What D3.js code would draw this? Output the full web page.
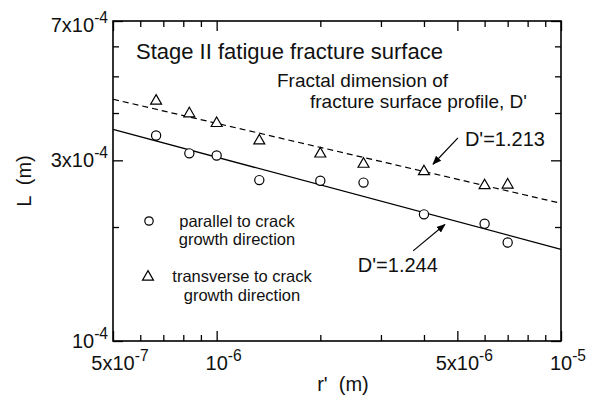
<!DOCTYPE html>
<html>
<head>
<meta charset="utf-8">
<script src="https://cdn.jsdelivr.net/npm/d3@7"></script>
<style>
    body { margin: 0; background: #ffffff; }
    svg { display: block; font-family: "Liberation Sans", Arial, sans-serif; }
</style>
</head>
<body>
<svg id="fractal-chart"></svg>
<script>
/*--------------------------------------------------------------------------------
----- LOG-LOG CHART (L versus r' for the stage II fatigue fracture surface)
--------------------------------------------------------------------------------*/

// Measured ruler lengths r' (m) shared by both profile directions
const r_values = [6.67e-7, 8.33e-7, 1.0e-6, 1.33e-6, 2.0e-6, 2.67e-6, 4.0e-6, 6.0e-6, 7.0e-6];

// Profile lengths L (m), parallel and transverse to crack growth direction
const parallel_values = [3.49e-4, 3.13e-4, 3.09e-4, 2.66e-4, 2.65e-4, 2.62e-4, 2.16e-4, 2.04e-4, 1.82e-4];
const transverse_values = [4.33e-4, 4.01e-4, 3.78e-4, 3.40e-4, 3.14e-4, 2.95e-4, 2.82e-4, 2.59e-4, 2.60e-4];

// Fitted lines, given by their end points [r', L]
const parallel_fit = [[5e-7, 3.62e-4], [1e-5, 1.746e-4]];
const transverse_fit = [[5e-7, 4.35e-4], [1e-5, 2.31e-4]];

// Tick values and tick labels (base text and exponent)
const x_major_ticks = [5e-7, 1e-6, 5e-6, 1e-5];
const x_tick_bases = ["5x10", "10", "5x10", "10"];
const x_tick_exponents = ["-7", "-6", "-6", "-5"];
const x_minor_ticks = [6e-7, 7e-7, 8e-7, 9e-7, 2e-6, 3e-6, 4e-6, 6e-6, 7e-6, 8e-6, 9e-6];
const y_major_ticks = [1e-4, 3e-4, 7e-4];
const y_tick_bases = ["10", "3x10", "7x10"];
const y_tick_exponents = ["-4", "-4", "-4"];
const y_minor_ticks = [2e-4, 4e-4, 5e-4, 6e-4];

// Texts of the chart
const title_text = "Stage II fatigue fracture surface";
const note_lines = ["Fractal dimension of", "fracture surface profile, D'"];
const fit_labels = ["D'=1.244", "D'=1.213"];
const legend_lines = [["parallel to crack", "growth direction"], ["transverse to crack", "growth direction"]];
const x_label = "r'  (m)";
const y_label = "L  (m)";

// Configure the dimensions of the chart
const width = 589, height = 400;
const margins = { top: 21, right: 28, bottom: 59, left: 113 };
const chart_width = width - margins.left - margins.right;
const chart_height = height - margins.top - margins.bottom;

// Log scales for both axes
const x_scale = d3.scaleLog()
    .domain([5e-7, 1e-5])
    .range([0, chart_width]);
const y_scale = d3.scaleLog()
    .domain([1e-4, 7e-4])
    .range([chart_height, 0]);

// Create the chart container
const svg = d3.select("#fractal-chart")
    .attr("width", width)
    .attr("height", height);

const chart = svg.append("g")
    .attr("transform", `translate(${margins.left}, ${margins.top})`);

// Draw inward ticks on all four sides with the d3 axes
function add_ticks(axis, transform) {
    chart.append("g")
        .attr("transform", transform)
        .call(axis)
        .call(g => g.select(".domain").remove())
        .selectAll("line")
        .attr("stroke", "#000")
        .attr("stroke-width", 1.3);
}

const major_len = 10, minor_len = 6;
add_ticks(d3.axisTop(x_scale).tickValues(x_major_ticks).tickSize(major_len).tickFormat(""), `translate(0, ${chart_height})`);
add_ticks(d3.axisTop(x_scale).tickValues(x_minor_ticks).tickSize(minor_len).tickFormat(""), `translate(0, ${chart_height})`);
add_ticks(d3.axisBottom(x_scale).tickValues(x_major_ticks).tickSize(major_len).tickFormat(""), "translate(0, 0)");
add_ticks(d3.axisBottom(x_scale).tickValues(x_minor_ticks).tickSize(minor_len).tickFormat(""), "translate(0, 0)");
add_ticks(d3.axisRight(y_scale).tickValues(y_major_ticks).tickSize(major_len).tickFormat(""), "translate(0, 0)");
add_ticks(d3.axisRight(y_scale).tickValues(y_minor_ticks).tickSize(minor_len).tickFormat(""), "translate(0, 0)");
add_ticks(d3.axisLeft(y_scale).tickValues(y_major_ticks).tickSize(major_len).tickFormat(""), `translate(${chart_width}, 0)`);
add_ticks(d3.axisLeft(y_scale).tickValues(y_minor_ticks).tickSize(minor_len).tickFormat(""), `translate(${chart_width}, 0)`);

// Frame of the plot area
chart.append("rect")
    .attr("x", 0)
    .attr("y", 0)
    .attr("width", chart_width)
    .attr("height", chart_height)
    .attr("fill", "none")
    .attr("stroke", "#000")
    .attr("stroke-width", 1.6);

// Tick labels written as base text with a superscript exponent
function power_label(parent, base, exponent, font_size) {
    const text = parent.append("text")
        .style("font-size", font_size + "px")
        .attr("fill", "#111");
    const base_span = text.append("tspan").text(base);
    text.append("tspan")
        .attr("dy", -9)
        .style("font-size", (font_size * 0.78) + "px")
        .text(exponent);
    return { text: text, base_width: base_span.node().getComputedTextLength() };
}

// X tick labels, the base text centred under the tick
x_major_ticks.forEach((v, i) => {
    const label = power_label(chart, x_tick_bases[i], x_tick_exponents[i], 20);
    label.text
        .attr("x", x_scale(v) - label.base_width / 2)
        .attr("y", chart_height + 29);
});

// Y tick labels, right aligned left of the axis
y_major_ticks.forEach((v, i) => {
    const label = power_label(chart, y_tick_bases[i], y_tick_exponents[i], 20);
    label.text
        .attr("text-anchor", "end")
        .attr("x", -5)
        .attr("y", y_scale(v) + (i === y_major_ticks.length - 1 ? 11 : 7));
});

// Axis titles
svg.append("text")
    .attr("x", 343)
    .attr("y", 391)
    .attr("text-anchor", "middle")
    .style("font-size", "20px")
    .style("white-space", "pre")
    .attr("fill", "#111")
    .text(x_label);

svg.append("text")
    .attr("transform", `translate(31, ${margins.top + chart_height / 2}) rotate(-90)`)
    .attr("text-anchor", "middle")
    .style("font-size", "20px")
    .style("white-space", "pre")
    .attr("fill", "#111")
    .text(y_label);

// Fitted lines, solid for parallel and dashed for transverse
const line = d3.line()
    .x(d => x_scale(d[0]))
    .y(d => y_scale(d[1]));

chart.append("path")
    .datum(parallel_fit)
    .attr("d", line)
    .attr("fill", "none")
    .attr("stroke", "#000")
    .attr("stroke-width", 1.3);

chart.append("path")
    .datum(transverse_fit)
    .attr("d", line)
    .attr("fill", "none")
    .attr("stroke", "#000")
    .attr("stroke-width", 1.2)
    .attr("stroke-dasharray", "6,4");

// Open circles for the parallel direction
const parallel_data = r_values.map((r, i) => ({ r: r, L: parallel_values[i] }));
const transverse_data = r_values.map((r, i) => ({ r: r, L: transverse_values[i] }));

chart.selectAll(".parallel")
    .data(parallel_data)
    .enter()
    .append("circle")
    .attr("class", "parallel")
    .attr("cx", d => x_scale(d.r))
    .attr("cy", d => y_scale(d.L))
    .attr("r", 4.6)
    .attr("fill", "#fff")
    .attr("stroke", "#000")
    .attr("stroke-width", 1.2);

// Open triangles for the transverse direction
const triangle = d3.symbol().type(d3.symbolTriangle).size(52);

chart.selectAll(".transverse")
    .data(transverse_data)
    .enter()
    .append("path")
    .attr("class", "transverse")
    .attr("d", triangle)
    .attr("transform", d => `translate(${x_scale(d.r)}, ${y_scale(d.L) + 1})`)
    .attr("fill", "#fff")
    .attr("stroke", "#000")
    .attr("stroke-width", 1.2);

// Title inside the plot
chart.append("text")
    .attr("x", 23)
    .attr("y", 38)
    .style("font-size", "22px")
    .attr("fill", "#111")
    .text(title_text);

// Two-line note as one text block with a tspan per line
const note = chart.append("text")
    .style("font-size", "19px")
    .attr("fill", "#111");
note.selectAll("tspan")
    .data(note_lines)
    .enter()
    .append("tspan")
    .attr("x", (d, i) => i === 0 ? 164 : 197)
    .attr("y", (d, i) => 65.5 + i * 21.5)
    .text(d => d);

// Labels of the fitted lines with their arrows, placed in data space
const fit_annotations = [
    { label: fit_labels[0], text_at: [2.57e-6, 1.52e-4], tail: [3.72e-6, 1.73e-4], tip: [4.6e-6, 2.03e-4] },
    { label: fit_labels[1], text_at: [5.26e-6, 3.27e-4], tail: [5.02e-6, 3.44e-4], tip: [4.25e-6, 2.93e-4] }
];

svg.append("defs").append("marker")
    .attr("id", "arrow")
    .attr("viewBox", "0 0 10 10")
    .attr("refX", 9)
    .attr("refY", 5)
    .attr("markerWidth", 9)
    .attr("markerHeight", 9)
    .attr("markerUnits", "userSpaceOnUse")
    .attr("orient", "auto")
    .append("path")
    .attr("d", "M0,1 L10,5 L0,9 Z")
    .attr("fill", "#000");

fit_annotations.forEach(a => {
    chart.append("text")
        .attr("x", x_scale(a.text_at[0]))
        .attr("y", y_scale(a.text_at[1]))
        .style("font-size", "20px")
        .attr("fill", "#111")
        .text(a.label);
    chart.append("line")
        .attr("x1", x_scale(a.tail[0]))
        .attr("y1", y_scale(a.tail[1]))
        .attr("x2", x_scale(a.tip[0]))
        .attr("y2", y_scale(a.tip[1]))
        .attr("stroke", "#000")
        .attr("stroke-width", 1.2)
        .attr("marker-end", "url(#arrow)");
});

// Legend with a marker and a two-line centred text block per entry
const legend = chart.append("g").attr("class", "legend");

legend.append("circle")
    .attr("cx", 36)
    .attr("cy", 200)
    .attr("r", 4.2)
    .attr("fill", "#fff")
    .attr("stroke", "#000")
    .attr("stroke-width", 1.2);

legend.append("path")
    .attr("d", triangle)
    .attr("transform", "translate(35, 256)")
    .attr("fill", "#fff")
    .attr("stroke", "#000")
    .attr("stroke-width", 1.2);

legend_lines.forEach((lines, k) => {
    const block = legend.append("text")
        .attr("text-anchor", "middle")
        .style("font-size", "16.5px")
        .attr("fill", "#111");
    block.selectAll("tspan")
        .data(lines)
        .enter()
        .append("tspan")
        .attr("x", k === 0 ? 124 : 129)
        .attr("y", (d, j) => (k === 0 ? 205.5 : 261) + j * 18.7)
        .text(d => d);
});
</script>
</body>
</html>
